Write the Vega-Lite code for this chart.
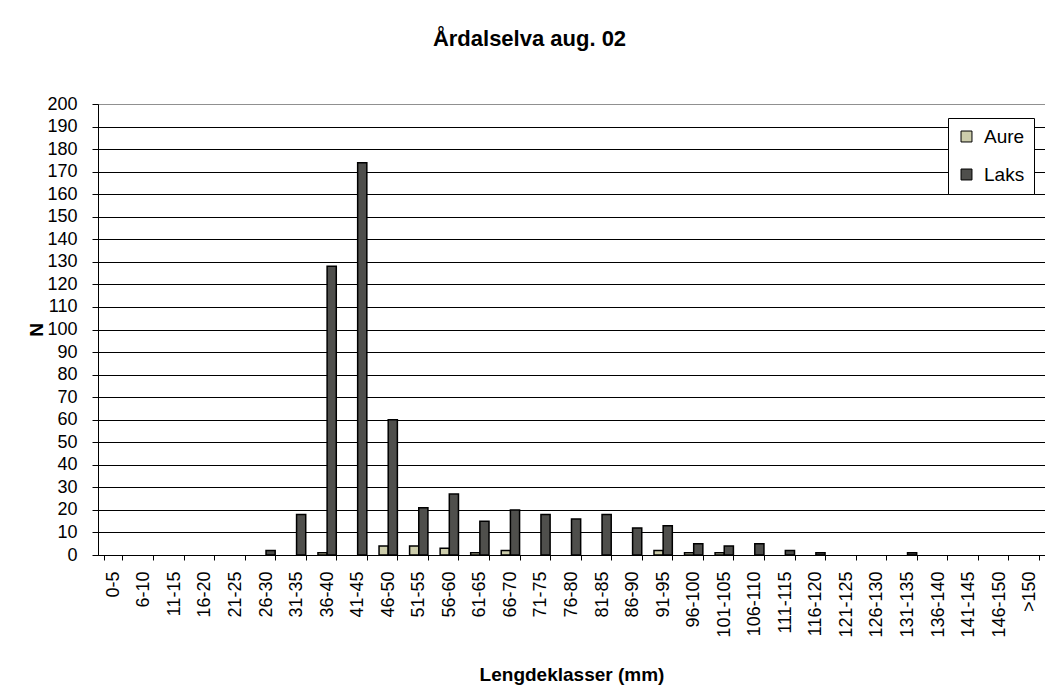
{
  "$schema": "https://vega.github.io/schema/vega-lite/v6.json",
  "width": 947,
  "height": 451,
  "autosize": {"type": "none"},
  "padding": {"left": 98, "top": 104, "right": 0, "bottom": 132},
  "background": "white",
  "title": {
    "text": "Årdalselva aug. 02",
    "font": "Liberation Sans",
    "fontSize": 22,
    "fontWeight": "bold",
    "color": "black",
    "anchor": "middle",
    "baseline": "alphabetic",
    "dx": -42,
    "offset": 27
  },
  "config": {
    "view": {"stroke": "#808080", "strokeWidth": 1},
    "font": "Liberation Sans"
  },
  "data": {
    "values": [
      {"klasse": "26-30", "art": "Laks", "n": 2},
      {"klasse": "31-35", "art": "Laks", "n": 18},
      {"klasse": "36-40", "art": "Aure", "n": 1},
      {"klasse": "36-40", "art": "Laks", "n": 128},
      {"klasse": "41-45", "art": "Laks", "n": 174},
      {"klasse": "46-50", "art": "Aure", "n": 4},
      {"klasse": "46-50", "art": "Laks", "n": 60},
      {"klasse": "51-55", "art": "Aure", "n": 4},
      {"klasse": "51-55", "art": "Laks", "n": 21},
      {"klasse": "56-60", "art": "Aure", "n": 3},
      {"klasse": "56-60", "art": "Laks", "n": 27},
      {"klasse": "61-65", "art": "Aure", "n": 1},
      {"klasse": "61-65", "art": "Laks", "n": 15},
      {"klasse": "66-70", "art": "Aure", "n": 2},
      {"klasse": "66-70", "art": "Laks", "n": 20},
      {"klasse": "71-75", "art": "Laks", "n": 18},
      {"klasse": "76-80", "art": "Laks", "n": 16},
      {"klasse": "81-85", "art": "Laks", "n": 18},
      {"klasse": "86-90", "art": "Laks", "n": 12},
      {"klasse": "91-95", "art": "Aure", "n": 2},
      {"klasse": "91-95", "art": "Laks", "n": 13},
      {"klasse": "96-100", "art": "Aure", "n": 1},
      {"klasse": "96-100", "art": "Laks", "n": 5},
      {"klasse": "101-105", "art": "Aure", "n": 1},
      {"klasse": "101-105", "art": "Laks", "n": 4},
      {"klasse": "106-110", "art": "Laks", "n": 5},
      {"klasse": "111-115", "art": "Laks", "n": 2},
      {"klasse": "116-120", "art": "Laks", "n": 1},
      {"klasse": "131-135", "art": "Laks", "n": 1}
    ]
  },
  "mark": {"type": "bar", "stroke": "black", "strokeWidth": 1.5, "opacity": 1},
  "encoding": {
    "x": {
      "field": "klasse",
      "type": "nominal",
      "scale": {
        "domain": ["0-5", "6-10", "11-15", "16-20", "21-25", "26-30", "31-35", "36-40", "41-45", "46-50", "51-55", "56-60", "61-65", "66-70", "71-75", "76-80", "81-85", "86-90", "91-95", "96-100", "101-105", "106-110", "111-115", "116-120", "121-125", "126-130", "131-135", "136-140", "141-145", "146-150", ">150"],
        "paddingInner": 0.4,
        "paddingOuter": 0.2
      },
      "axis": {
        "title": "Lengdeklasser (mm)",
        "titleFont": "Liberation Sans",
        "titleFontSize": 19,
        "titleFontWeight": "bold",
        "titleColor": "black",
        "titlePadding": 28,
        "labelAngle": -90,
        "labelFont": "Liberation Sans",
        "labelFontSize": 18,
        "labelColor": "black",
        "labelPadding": 11,
        "tickBand": "extent",
        "tickColor": "black",
        "tickSize": 5,
        "domainColor": "black",
        "domainWidth": 1,
        "grid": false
      }
    },
    "xOffset": {
      "field": "art",
      "type": "nominal",
      "scale": {"domain": ["Aure", "Laks"], "paddingInner": 0, "paddingOuter": 0}
    },
    "y": {
      "field": "n",
      "type": "quantitative",
      "scale": {"domain": [0, 200], "nice": false},
      "axis": {
        "title": "N",
        "titleFont": "Liberation Sans",
        "titleFontSize": 19,
        "titleFontWeight": "bold",
        "titleColor": "black",
        "titlePadding": 0,
        "values": [0, 10, 20, 30, 40, 50, 60, 70, 80, 90, 100, 110, 120, 130, 140, 150, 160, 170, 180, 190, 200],
        "labelFont": "Liberation Sans",
        "labelFontSize": 18,
        "labelColor": "black",
        "labelPadding": 15,
        "tickColor": "black",
        "tickSize": 6,
        "domainColor": "black",
        "domainWidth": 1,
        "grid": true,
        "gridColor": {"condition": {"test": "datum.value === 200", "value": "#909090"}, "value": "black"},
        "gridWidth": 1
      }
    },
    "color": {
      "field": "art",
      "type": "nominal",
      "scale": {"domain": ["Aure", "Laks"], "range": ["#cdcdab", "#4f4f4c"]},
      "legend": {
        "title": null,
        "orient": "none",
        "legendX": 850,
        "legendY": 14,
        "strokeColor": "black",
        "fillColor": "white",
        "padding": 9,
        "symbolType": "square",
        "symbolSize": 120,
        "symbolStrokeColor": "black",
        "symbolStrokeWidth": 1,
        "symbolOpacity": 1,
        "labelFont": "Liberation Sans",
        "labelFontSize": 19,
        "labelColor": "black",
        "labelOffset": 8,
        "rowPadding": 18
      }
    }
  }
}
